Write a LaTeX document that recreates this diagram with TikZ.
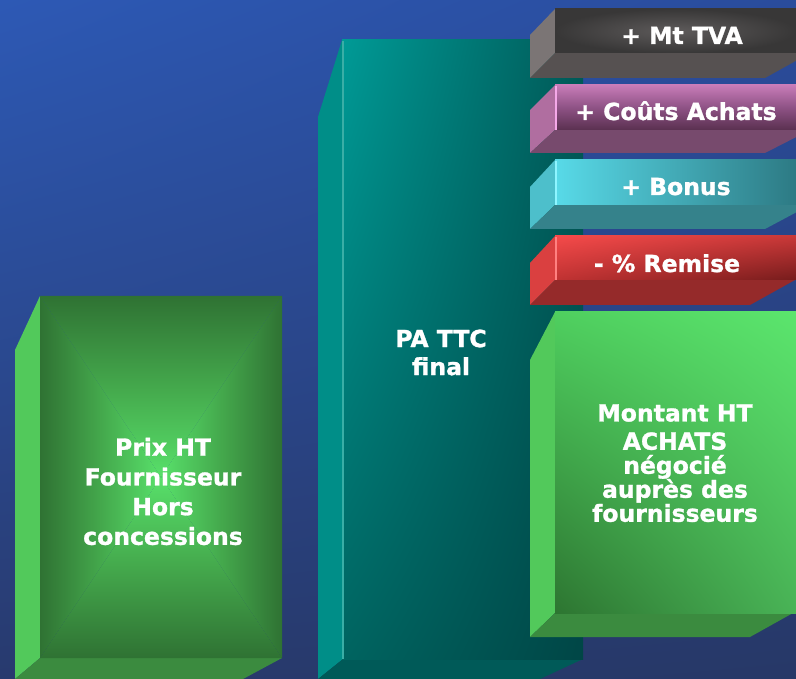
\documentclass[tikz,border=0pt]{standalone}
\usepackage{fontspec}
\setmainfont{DejaVu Sans}[BoldFeatures={FakeBold=1.2}]
\usetikzlibrary{shadings}
\definecolor{bgUL}{HTML}{2D59B5}
\definecolor{bgUR}{HTML}{2A4C9C}
\definecolor{bgLL}{HTML}{283A6E}
\definecolor{bgLR}{HTML}{273867}
\definecolor{tealUL}{HTML}{009A96}
\definecolor{tealUR}{HTML}{005A58}
\definecolor{tealLL}{HTML}{006460}
\definecolor{tealLR}{HTML}{004646}
\definecolor{tealSide}{HTML}{008E88}
\definecolor{tealBot}{HTML}{005A58}
\definecolor{tealHi}{HTML}{3AAEA6}
\definecolor{gEdge}{HTML}{2F7233}
\definecolor{gMid}{HTML}{44A84C}
\definecolor{gCen}{HTML}{58E06A}
\definecolor{gSide}{HTML}{52C95B}
\definecolor{gBot}{HTML}{3B8B3F}
\definecolor{rgUL}{HTML}{4FCF5F}
\definecolor{rgUR}{HTML}{5BE56D}
\definecolor{rgLL}{HTML}{2D7531}
\definecolor{rgLR}{HTML}{49B356}
\definecolor{greyIn}{HTML}{5E5B5B}
\definecolor{greyOut}{HTML}{383737}
\definecolor{greySide}{HTML}{7B7575}
\definecolor{greyBot}{HTML}{565151}
\definecolor{pinkTop}{HTML}{C87CB8}
\definecolor{pinkMid}{HTML}{8E5285}
\definecolor{pinkBotC}{HTML}{5A3050}
\definecolor{pinkSide}{HTML}{B06EA0}
\definecolor{pinkBot}{HTML}{774A6D}
\definecolor{pinkHi}{HTML}{F5A8E8}
\definecolor{cyanL}{HTML}{58DAE8}
\definecolor{cyanR}{HTML}{2D7A84}
\definecolor{cyanSide}{HTML}{4DBFCB}
\definecolor{cyanBot}{HTML}{35828B}
\definecolor{cyanHi}{HTML}{8EF5FF}
\definecolor{redUL}{HTML}{F44A4A}
\definecolor{redUR}{HTML}{C83838}
\definecolor{redLL}{HTML}{C03232}
\definecolor{redLR}{HTML}{761C1C}
\definecolor{redSide}{HTML}{DA4040}
\definecolor{redBot}{HTML}{952A2A}
\definecolor{redHi}{HTML}{FF8080}
\begin{document}
\begin{tikzpicture}[x=1pt,y=-1pt,
  lbl/.style={text=white,font=\bfseries\fontsize{23.5}{24}\selectfont,align=center,inner sep=0pt},
  hiline/.style={line width=1.6pt}]
\useasboundingbox (0,0) rectangle (796,679);
\clip (0,0) rectangle (796,679);
% background
\shade[upper left=bgUL,upper right=bgUR,lower left=bgLL,lower right=bgLR] (0,0) rectangle (796,679);

% teal column
\fill[tealSide] (342,40) -- (318,117) -- (318,679) -- (343,659) -- cycle;
\fill[tealBot] (343,659) -- (583,659) -- (540,679) -- (318,679) -- cycle;
\shade[upper left=tealUL,upper right=tealUR,lower left=tealLL,lower right=tealLR] (342,40) rectangle (583,659);
\draw[hiline,tealHi] (343,41) -- (343,659);

% left green box
\fill[gSide] (40,296) -- (15,350) -- (15,679) -- (40,658) -- cycle;
\fill[gBot] (40,658) -- (282,658) -- (243,679) -- (15,679) -- cycle;
\coordinate (lc) at (161,477);
\shade[top color=gEdge,bottom color=gCen,middle color=gMid] (40,296) -- (282,296) -- (lc) -- cycle;
\shade[top color=gCen,bottom color=gEdge,middle color=gMid] (40,658) -- (282,658) -- (lc) -- cycle;
\shade[left color=gEdge,right color=gCen,middle color=gMid] (40,296) -- (40,658) -- (lc) -- cycle;
\shade[left color=gCen,right color=gEdge,middle color=gMid] (282,296) -- (282,658) -- (lc) -- cycle;

% grey bar
\fill[greySide] (555,9) -- (530,35) -- (530,78) -- (555,53) -- cycle;
\fill[greyBot] (555,53) -- (810,53) -- (765,78) -- (530,78) -- cycle;
\shade[inner color=greyIn,outer color=greyOut] (555,9) rectangle (796,53);
% pink bar
\fill[pinkSide] (555,85) -- (530,110) -- (530,153) -- (555,130) -- cycle;
\fill[pinkBot] (555,130) -- (810,130) -- (765,153) -- (530,153) -- cycle;
\shade[top color=pinkTop,bottom color=pinkBotC,middle color=pinkMid] (555,85) rectangle (796,130);
\draw[hiline,pinkHi] (556,86) -- (556,130);
% cyan bar
\fill[cyanSide] (555,160) -- (530,187) -- (530,229) -- (555,205) -- cycle;
\fill[cyanBot] (555,205) -- (810,205) -- (765,229) -- (530,229) -- cycle;
\shade[left color=cyanL,right color=cyanR] (555,160) rectangle (796,205);
\draw[hiline,cyanHi] (556,161) -- (556,205);
% red bar
\fill[redSide] (555,236) -- (530,263) -- (530,305) -- (555,280) -- cycle;
\fill[redBot] (555,280) -- (795,280) -- (750,305) -- (530,305) -- cycle;
\shade[upper left=redUL,upper right=redUR,lower left=redLL,lower right=redLR] (555,236) rectangle (796,280);
\draw[hiline,redHi] (556,237) -- (556,280);

% right green box
\fill[gSide] (555,312) -- (530,360) -- (530,637) -- (555,613) -- cycle;
\fill[gBot] (555,613) -- (793,613) -- (750,637) -- (530,637) -- cycle;
\shade[upper left=rgUL,upper right=rgUR,lower left=rgLL,lower right=rgLR] (555,312) rectangle (796,613);

% texts
\node[lbl,font=\bfseries\fontsize{23.5}{29.7}\selectfont] (prix) at (163,491.5) {Prix HT\\Fournisseur\\Hors\\concessions};
\node[lbl,font=\bfseries\fontsize{23.5}{28}\selectfont] (pattc) at (441,352.5) {PA TTC\\final};
\node[lbl] (montant) at (675,463.2) {Montant HT\\[4.3pt]ACHATS\\négocié\\auprès des\\fournisseurs};
\node[lbl,anchor=base] (tva) at (682,44) {+ Mt TVA};
\node[lbl,anchor=base] (couts) at (676,120) {+ Coûts Achats};
\node[lbl,anchor=base] (bonus) at (676,195) {+ Bonus};
\node[lbl,anchor=base] (remise) at (667,272) {- \% Remise};
\end{tikzpicture}
\end{document}
